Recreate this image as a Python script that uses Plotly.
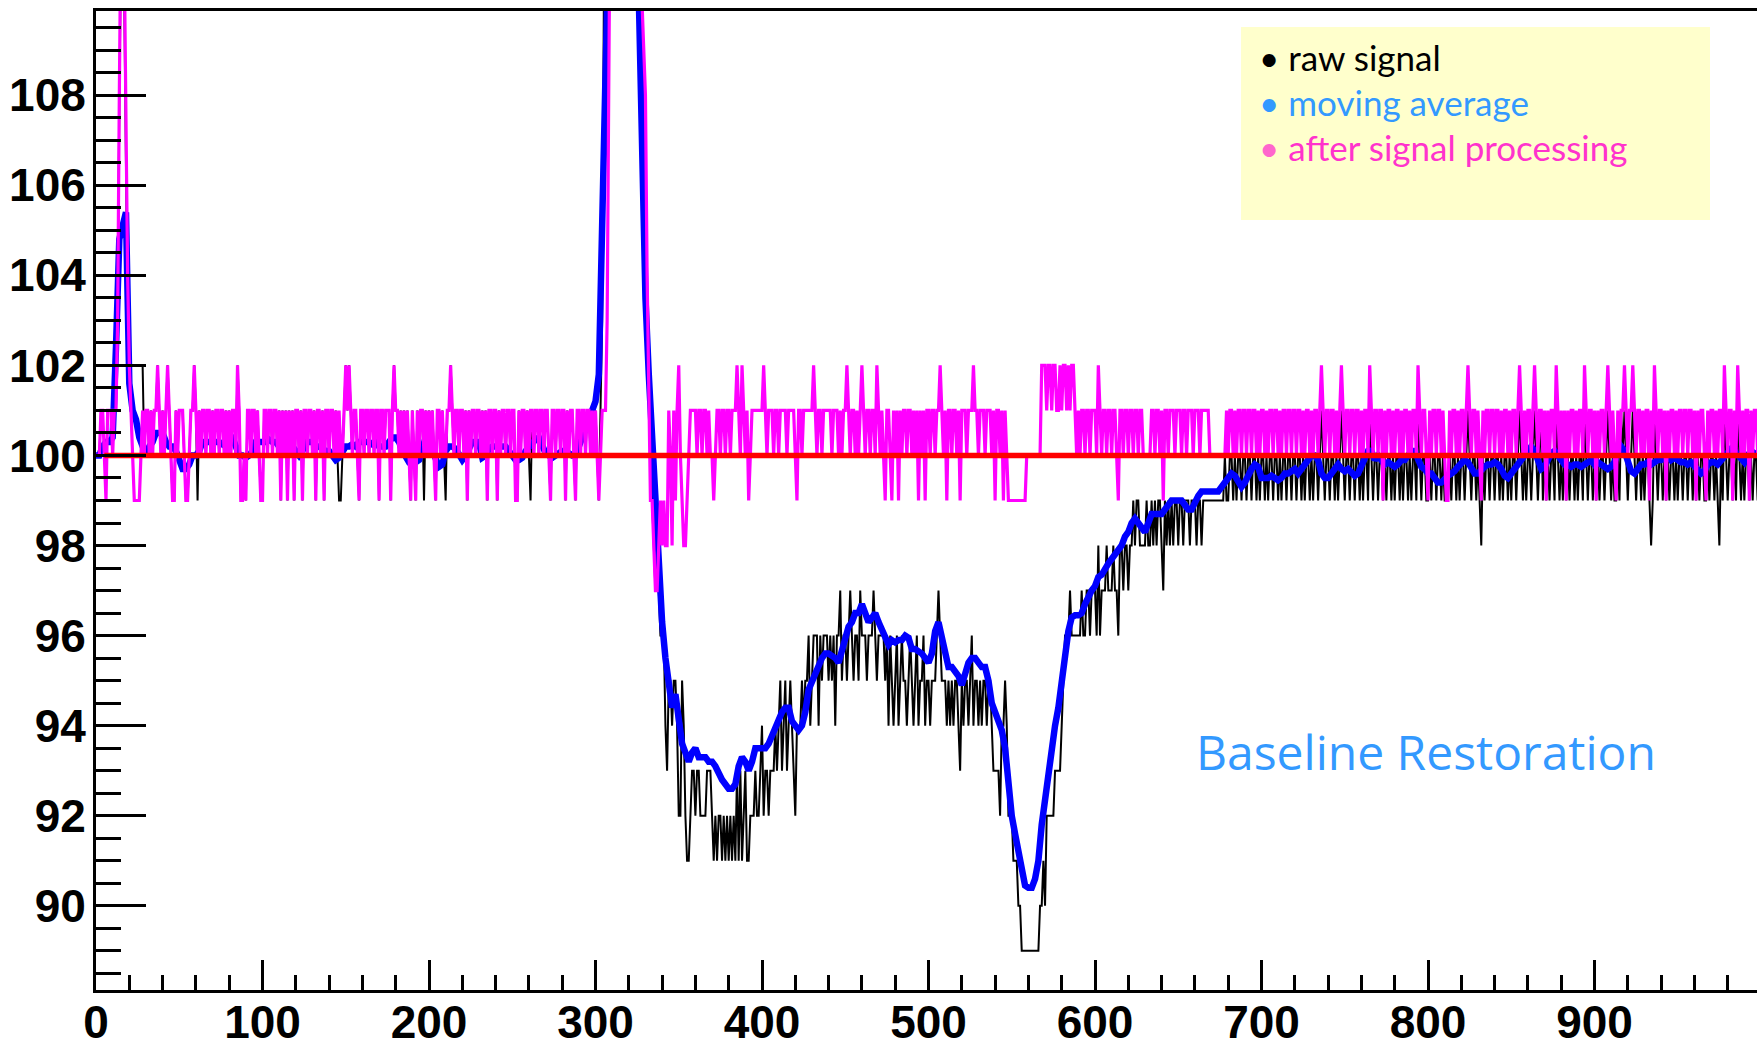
import plotly.graph_objects as go

# ---------------- data ----------------
# raw signal, one value per bin (bins 0..999), rows of 20 bins
raw_rows = [
    [100,100,100,101,101,101,101,101,101,101,101,101,101,104,109,113,115,110,106,103],
    [102,102,102,102,102,102,102,102,102,100,101,101,100,101,100,101,101,102,101,100],
    [101,100,101,102,101,100,99,99,101,100,101,101,101,100,99,99,100,101,101,102],
    [101,99,101,100,101,101,100,101,101,100,101,100,101,101,100,101,101,100,101,100],
    [101,100,101,101,100,102,101,99,99,100,99,101,101,100,101,101,100,101,100,99],
    [99,101,101,100,101,101,100,101,101,100,101,99,101,100,101,99,101,100,101,99],
    [101,101,100,101,99,101,101,100,101,101,100,101,99,101,101,100,101,99,101,101],
    [100,101,101,100,101,100,99,99,100,101,102,101,102,101,100,101,101,100,99,101],
    [101,100,101,101,100,101,101,100,101,101,99,101,101,100,101,101,101,99,101,102],
    [101,101,100,101,100,101,100,101,100,99,101,100,99,101,100,101,101,99,101,100],
    [101,100,101,100,99,101,101,100,101,100,99,101,101,102,101,100,101,101,100,101],
    [101,100,101,99,101,100,101,101,100,101,101,100,101,100,101,99,101,101,100,101],
    [101,99,101,100,101,101,100,101,101,100,101,101,99,99,101,100,101,101,100,101],
    [100,99,101,100,101,101,100,101,101,100,101,101,100,99,101,101,100,101,101,100],
    [101,101,99,101,100,101,101,100,99,101,101,100,101,101,100,101,101,100,101,100],
    [101,100,99,101,103,110,120,128,134,137,139,140,140,140,139,139,138,138,137,136],
    [135,133,130,127,124,120,116,113,110,107,105,103,102,100,99,98,97,97,97,96],
    [96,96,94,93,95,95,94,95,95,94,92,92,95,94,92,91,91,92,93,93],
    [92,93,93,92,92,92,92,93,93,93,92,91,92,91,92,92,91,92,91,92],
    [91,92,91,92,91,93,91,93,91,92,93,91,91,92,92,92,93,92,92,93],
    [94,92,93,93,92,93,93,93,94,93,94,95,93,94,95,93,94,95,94,93],
    [92,94,94,94,95,94,95,95,96,94,95,96,96,96,94,96,95,96,96,96],
    [95,96,95,96,94,96,96,97,95,96,96,95,96,97,96,95,96,96,95,97],
    [96,96,96,95,96,96,96,97,96,95,96,96,96,96,95,96,94,96,95,94],
    [95,96,94,95,96,95,95,94,95,96,95,94,95,96,94,95,95,96,94,95],
    [95,94,95,95,95,96,97,96,95,95,95,94,95,94,95,94,95,95,94,93],
    [95,94,95,95,94,95,96,94,95,95,94,95,94,95,95,94,95,95,94,93],
    [93,93,93,92,94,94,95,94,92,92,92,91,91,91,90,90,89,89,89,89],
    [89,89,89,89,89,89,89,90,90,91,90,92,92,92,92,92,93,93,93,93],
    [94,95,96,96,96,97,96,96,96,96,96,96,97,96,96,97,97,96,97,97],
    [97,96,98,96,97,97,97,98,97,97,97,98,97,97,96,98,98,97,98,98],
    [97,98,98,99,98,99,99,98,98,98,98,99,98,98,99,98,99,98,99,99],
    [98,97,99,98,99,98,99,98,99,99,98,99,99,98,99,99,99,98,99,99],
    [99,98,99,99,98,99,99,99,99,99,99,99,99,99,99,99,99,99,100,99],
    [99,100,100,99,100,99,100,100,99,100,100,99,100,100,99,100,100,99,100,99],
    [100,100,99,100,99,100,100,99,100,100,99,100,99,100,100,99,100,100,99,100],
    [100,99,100,100,99,100,99,100,100,99,100,99,100,100,99,100,101,100,99,100],
    [100,99,100,100,99,100,99,100,101,100,99,100,100,99,100,100,99,100,100,99],
    [100,99,100,100,99,101,100,99,100,100,99,100,100,99,100,99,100,100,99,100],
    [99,100,100,99,100,99,100,100,99,100,99,100,100,99,101,100,99,100,100,99],
    [99,100,99,100,100,99,100,100,99,100,99,99,99,100,99,100,100,99,100,99],
    [100,100,99,100,101,100,99,100,100,99,100,99,98,100,99,100,100,99,100,100],
    [99,100,100,99,100,99,100,100,99,100,99,100,100,99,100,101,100,99,100,99],
    [100,100,99,100,101,100,99,100,101,99,100,99,100,99,100,100,99,101,100,99],
    [100,99,100,99,100,99,100,100,99,100,99,100,100,99,101,100,99,100,100,99],
    [100,99,100,99,100,100,99,100,101,100,99,100,99,99,100,99,101,100,101,100],
    [99,100,100,101,100,99,100,100,99,100,99,100,100,99,98,99,101,100,99,100],
    [100,99,100,99,100,99,100,100,99,100,99,100,100,99,100,100,99,100,100,99],
    [100,99,100,99,100,100,99,99,100,99,100,100,99,100,99,98,100,99,101,100],
    [99,100,100,99,100,99,101,100,99,100,99,100,100,99,100,99,100,100,99,100],
]

# signal after processing, one value per bin, rows of 20 bins
processed_rows = [
    [100,100,100,101,101,100,99,101,101,101,100,101,101,103,108,114,116,111,107,104],
    [102,101,100,99,99,99,99,100,101,100,101,101,100,101,100,101,101,102,101,100],
    [101,100,101,102,101,100,99,99,101,100,101,101,101,100,99,99,100,101,101,102],
    [101,100,101,100,101,101,100,101,101,100,101,100,101,101,100,101,101,100,101,100],
    [101,100,101,101,100,102,101,99,99,100,99,101,101,100,101,101,100,101,100,99],
    [99,101,101,100,101,101,100,101,101,100,101,99,101,100,101,99,101,100,101,99],
    [101,101,100,101,99,101,101,100,101,101,100,101,99,101,101,100,101,99,101,101],
    [100,101,101,100,101,100,101,100,100,101,102,101,102,101,100,101,101,100,99,101],
    [101,100,101,101,100,101,101,100,101,101,99,101,101,100,101,101,101,99,101,102],
    [101,101,100,101,100,101,100,101,100,99,101,100,99,101,100,101,101,100,101,100],
    [101,100,101,100,99,101,101,100,101,100,100,101,101,102,101,100,101,101,100,101],
    [101,100,101,99,101,100,101,101,100,101,101,100,101,100,101,99,101,101,100,101],
    [101,99,101,100,101,101,100,101,101,100,101,101,99,99,101,100,101,101,100,101],
    [100,101,101,100,101,101,100,101,101,100,101,101,100,99,101,101,100,101,101,100],
    [101,101,99,101,100,101,101,100,99,101,101,100,101,101,100,101,101,100,101,100],
    [101,100,99,100,101,101,101,103,112,122,130,134,135,135,134,134,133,133,132,131],
    [130,129,128,127,126,125,118,112,110,109,108,104,101,99,99,98,97,97,98,99],
    [98,99,98,98,101,100,98,101,99,101,102,100,99,98,98,99,100,101,101,101],
    [101,100,101,101,100,101,101,100,101,100,100,99,100,101,101,100,101,101,100,101],
    [101,100,101,101,101,102,101,100,102,101,100,101,99,100,101,101,101,101,101,101],
    [101,102,101,100,101,101,101,100,101,101,100,101,101,101,101,100,101,101,101,101],
    [100,99,101,101,100,101,101,101,101,101,101,102,101,100,101,101,100,101,101,101],
    [101,101,100,101,101,101,100,101,100,101,101,102,101,100,101,101,100,101,100,101],
    [102,101,100,101,101,100,101,101,100,102,101,100,101,100,99,101,101,100,99,101],
    [100,101,99,101,100,101,101,100,101,101,100,101,100,101,99,101,100,101,99,101],
    [101,100,101,101,100,101,101,102,101,100,101,99,101,101,100,101,101,100,101,99],
    [101,101,101,100,101,101,101,102,101,101,100,101,101,101,100,101,101,101,100,101],
    [99,101,101,100,101,99,101,100,99,99,99,99,99,99,99,99,99,99,99,100],
    [100,100,100,100,100,100,100,100,102,102,102,101,102,102,101,102,102,101,101,102],
    [101,102,102,101,102,101,102,102,101,100,101,100,101,101,100,101,101,100,101,101],
    [101,100,102,101,100,101,101,100,101,101,100,101,101,100,99,101,101,100,101,101],
    [100,101,101,100,101,101,100,101,101,100,100,100,100,100,101,101,100,101,101,100],
    [101,99,101,101,100,101,101,101,100,101,101,101,100,101,101,100,101,101,101,100],
    [101,101,101,100,101,101,101,101,101,100,100,100,100,100,100,100,100,100,100,101],
    [100,101,101,100,101,100,101,101,100,101,101,100,101,101,100,101,101,100,101,100],
    [101,101,100,101,100,101,101,100,101,101,100,101,100,101,101,100,101,101,100,101],
    [101,100,101,101,100,101,100,101,101,100,101,100,101,101,100,101,102,101,100,101],
    [101,100,101,101,100,101,100,101,102,101,100,101,101,100,101,101,100,101,101,100],
    [101,100,101,101,100,102,101,100,101,101,100,101,101,99,101,100,101,101,100,101],
    [100,101,101,100,101,100,101,101,100,101,100,101,101,100,102,101,100,101,101,100],
    [99,101,100,101,101,100,101,101,100,101,100,99,99,101,100,101,101,100,101,100],
    [101,101,100,101,102,101,100,101,101,100,101,100,99,101,100,101,101,100,101,101],
    [100,101,101,100,101,100,101,101,100,101,100,101,101,100,101,102,101,100,101,100],
    [101,101,100,101,102,101,100,101,101,100,101,99,101,100,101,101,100,102,101,100],
    [101,100,101,99,101,100,101,101,100,101,100,101,101,100,102,101,100,101,101,100],
    [101,99,101,100,101,101,100,101,102,101,100,101,100,99,101,100,101,101,102,101],
    [100,101,101,102,101,100,101,101,100,101,100,101,101,99,101,100,102,101,100,101],
    [101,100,101,99,101,100,101,101,100,101,100,101,101,100,101,101,100,101,101,100],
    [101,99,101,100,101,101,100,99,101,100,101,101,100,101,100,101,101,100,102,101],
    [100,101,101,99,101,100,102,101,100,101,100,101,101,99,101,100,101,101,100,101],
]

# moving average, one value every 2 bins (bins 0, 2, ..., 998), rows of 10 values
moving_average_rows = [
    [100.0,100.0,100.2,100.3,100.3,100.4,102.4,104.8,105.1,105.4],
    [101.6,101.0,100.8,100.4,100.2,100.0,100.2,100.3,100.5,100.5],
    [100.5,100.3,100.2,100.2,100.1,99.9,99.7,99.7,99.8,100.0],
    [100.0,100.1,100.3,100.3,100.3,100.3,100.3,100.3,100.25,100.3],
    [100.4,100.4,100.2,100.0,100.0,99.95,100.0,100.1,100.3,100.3],
    [100.3,100.3,100.35,100.3,100.3,100.2,100.3,100.3,100.3,100.2],
    [100.1,100.0,100.1,100.3,100.3,100.3,100.2,100.2,100.15,100.1],
    [100.1,100.0,99.9,99.95,100.1,100.2,100.2,100.25,100.2,100.3],
    [100.3,100.3,100.3,100.25,100.3,100.2,100.2,100.2,100.3,100.4],
    [100.4,100.3,100.1,99.95,99.85,99.85,99.85,99.9,100.2,100.4],
    [100.3,100.1,99.9,99.75,99.8,100.1,100.2,100.2,100.15,100.0],
    [99.9,100.0,100.2,100.3,100.3,100.3,99.95,100.0,100.15,100.2],
    [100.2,100.2,100.2,100.2,100.1,100.0,99.9,99.9,99.95,100.1],
    [100.2,100.3,100.35,100.4,100.2,100.05,100.0,99.95,100.0,100.05],
    [100.1,100.1,100.05,100.0,100.0,100.2,100.4,100.5,100.7,100.9],
    [101.2,101.8,105.5,112.0,118.0,122.0,124.0,125.0,125.0,124.0],
    [123.0,121.0,116.0,110.2,106.3,103.5,101.8,100.4,98.9,97.2],
    [96.3,95.5,94.9,94.4,94.7,94.0,93.6,93.4,93.2,93.4],
    [93.5,93.3,93.3,93.3,93.2,93.2,93.1,92.9,92.8,92.7],
    [92.6,92.6,92.7,93.1,93.3,93.2,93.0,93.2,93.5,93.5],
    [93.5,93.5,93.6,93.8,94.0,94.1,94.3,94.4,94.4,94.1],
    [94.0,93.9,94.0,94.3,94.8,95.0,95.2,95.35,95.5,95.6],
    [95.6,95.55,95.5,95.4,95.7,96.0,96.2,96.3,96.5,96.5],
    [96.7,96.5,96.3,96.4,96.5,96.3,96.1,96.0,95.8,95.9],
    [95.85,95.9,95.9,96.0,95.95,95.7,95.7,95.65,95.6,95.5],
    [95.4,95.6,96.1,96.3,96.0,95.6,95.3,95.3,95.2,95.1],
    [94.9,95.2,95.4,95.5,95.5,95.4,95.3,95.3,95.0,94.5],
    [94.3,94.1,93.9,93.5,92.7,92.0,91.6,91.2,90.8,90.45],
    [90.4,90.4,90.6,91.0,91.8,92.4,93.0,93.5,94.0,94.4],
    [95.0,95.7,96.1,96.4,96.45,96.45,96.5,96.7,96.9,97.0],
    [97.1,97.3,97.35,97.5,97.6,97.7,97.8,97.9,98.0,98.2],
    [98.3,98.5,98.6,98.5,98.4,98.3,98.5,98.7,98.7,98.7],
    [98.7,98.8,98.9,99.0,99.0,99.0,99.0,98.9,98.8,98.8],
    [99.0,99.1,99.2,99.2,99.2,99.2,99.2,99.2,99.3,99.4],
    [99.5,99.6,99.55,99.4,99.3,99.4,99.6,99.7,99.8,99.75],
    [99.5,99.5,99.5,99.55,99.5,99.45,99.5,99.6,99.6,99.65],
    [99.7,99.6,99.7,99.75,99.9,100.0,100.0,99.9,99.6,99.5],
    [99.5,99.6,99.75,99.8,99.7,99.65,99.7,99.6,99.55,99.6],
    [99.8,99.95,100.1,100.1,99.9,100.0,99.9,99.8,99.85,99.8],
    [99.75,99.8,99.9,99.9,100.0,100.1,100.1,99.9,99.75,99.7],
    [99.6,99.6,99.5,99.4,99.4,99.5,99.55,99.6,99.65,99.75],
    [99.85,99.9,99.85,99.7,99.6,99.6,99.7,99.75,99.8,99.8],
    [99.85,99.8,99.7,99.55,99.5,99.6,99.75,99.85,99.9,100.0],
    [100.1,100.2,100.1,99.9,99.7,99.75,99.9,100.05,100.1,100.0],
    [99.85,99.8,99.8,99.75,99.8,99.8,99.75,99.8,99.85,99.9],
    [99.8,99.85,99.8,99.75,99.7,99.75,99.85,100.05,100.2,100.1],
    [99.85,99.65,99.6,99.7,99.8,99.8,99.85,99.8,99.85,99.9],
    [99.9,99.95,100.0,99.9,99.95,99.9,99.85,99.85,99.8,99.85],
    [99.75,99.7,99.6,99.65,99.8,99.85,99.85,99.8,99.9,100.0],
    [100.1,100.15,100.1,100.0,99.9,99.85,100.0,100.1,100.05,100.0],
]

baseline_x = [5, 1000]
baseline_y = [100, 100]

x_tick_values = [0, 100, 200, 300, 400, 500, 600, 700, 800, 900]
y_tick_values = [90, 92, 94, 96, 98, 100, 102, 104, 106, 108]

legend_labels = ["raw signal", "moving average", "after signal processing"]
annotation_text = "Baseline Restoration"

# ---------------- assemble ----------------
raw_signal = [v for row in raw_rows for v in row]
processed = [v for row in processed_rows for v in row]
moving_average = [v for row in moving_average_rows for v in row]
bins = list(range(len(raw_signal)))
ma_bins = list(range(0, 2 * len(moving_average), 2))

fig = go.Figure()
fig.add_trace(go.Scatter(x=bins, y=raw_signal, mode="lines",
                         line=dict(color="black", width=2), name=legend_labels[0]))
fig.add_trace(go.Scatter(x=ma_bins, y=moving_average, mode="lines",
                         line=dict(color="#0000ff", width=6.5), name=legend_labels[1]))
fig.add_trace(go.Scatter(x=bins, y=processed, mode="lines",
                         line=dict(color="#ff00ff", width=3.2), name=legend_labels[2]))
fig.add_trace(go.Scatter(x=baseline_x, y=baseline_y, mode="lines",
                         line=dict(color="#ff0000", width=5.5), name="baseline"))

L, R, T, B = 96, 0, 11, 57
W, H = 1757, 1047
pw, ph = W - L - R, H - T - B


def px(xp):
    return (xp - L) / pw


def py(yp):
    return (H - B - yp) / ph


tick_font = dict(family="Liberation Sans, Arial, sans-serif", size=46, color="black", weight="bold")

fig.update_layout(
    width=W, height=H,
    margin=dict(l=L, r=R, t=T, b=B, pad=0, autoexpand=False),
    showlegend=False,
    plot_bgcolor="white", paper_bgcolor="white",
    xaxis=dict(range=[0, 997.6], showline=True, linecolor="black", linewidth=3, mirror=True,
               automargin=False,
               ticks="inside", ticklen=30, tickwidth=2.5, tickcolor="black",
               tickmode="array", tickvals=x_tick_values, ticktext=[str(v) for v in x_tick_values],
               showgrid=False, zeroline=False, tickfont=tick_font, ticklabelstandoff=-10,
               minor=dict(ticks="inside", ticklen=15, tickwidth=2.5, tickcolor="black",
                          dtick=20, tick0=0, showgrid=False)),
    yaxis=dict(range=[88.13, 109.87], showline=True, linecolor="black", linewidth=3, mirror=False,
               automargin=False,
               ticks="inside", ticklen=50, tickwidth=3, tickcolor="black",
               tickmode="array", tickvals=y_tick_values, ticktext=[str(v) for v in y_tick_values],
               showgrid=False, zeroline=False, tickfont=tick_font, ticklabelstandoff=-2,
               minor=dict(ticks="inside", ticklen=25, tickwidth=3, tickcolor="black",
                          dtick=0.5, tick0=0, showgrid=False)),
)

# legend box
fig.add_shape(type="rect", xref="paper", yref="paper",
              x0=px(1241), x1=px(1710), y0=py(220), y1=py(27),
              fillcolor="#ffffcc", line=dict(width=0), layer="above")

legend_colors = [("#000000", "#000000"), ("#3399ff", "#3399ff"), ("#ff66cc", "#ff33cc")]
legend_y = [57, 102, 147]
for label, (bc, tc), yy in zip(legend_labels, legend_colors, legend_y):
    fig.add_annotation(xref="paper", yref="paper", x=px(1257), y=py(yy),
                       xanchor="left", yanchor="middle", showarrow=False,
                       text=f"<span style='color:{bc}'>•</span> <span style='color:{tc}'>{label}</span>",
                       font=dict(family="Lato, Open Sans, sans-serif", size=35, color=tc))

fig.add_annotation(xref="paper", yref="paper", x=px(1426), y=py(751),
                   xanchor="center", yanchor="middle", showarrow=False,
                   text=annotation_text,
                   font=dict(family="Open Sans, sans-serif", size=48, color="#3399ff"))

fig.write_html("out.html", config={"displayModeBar": False})
